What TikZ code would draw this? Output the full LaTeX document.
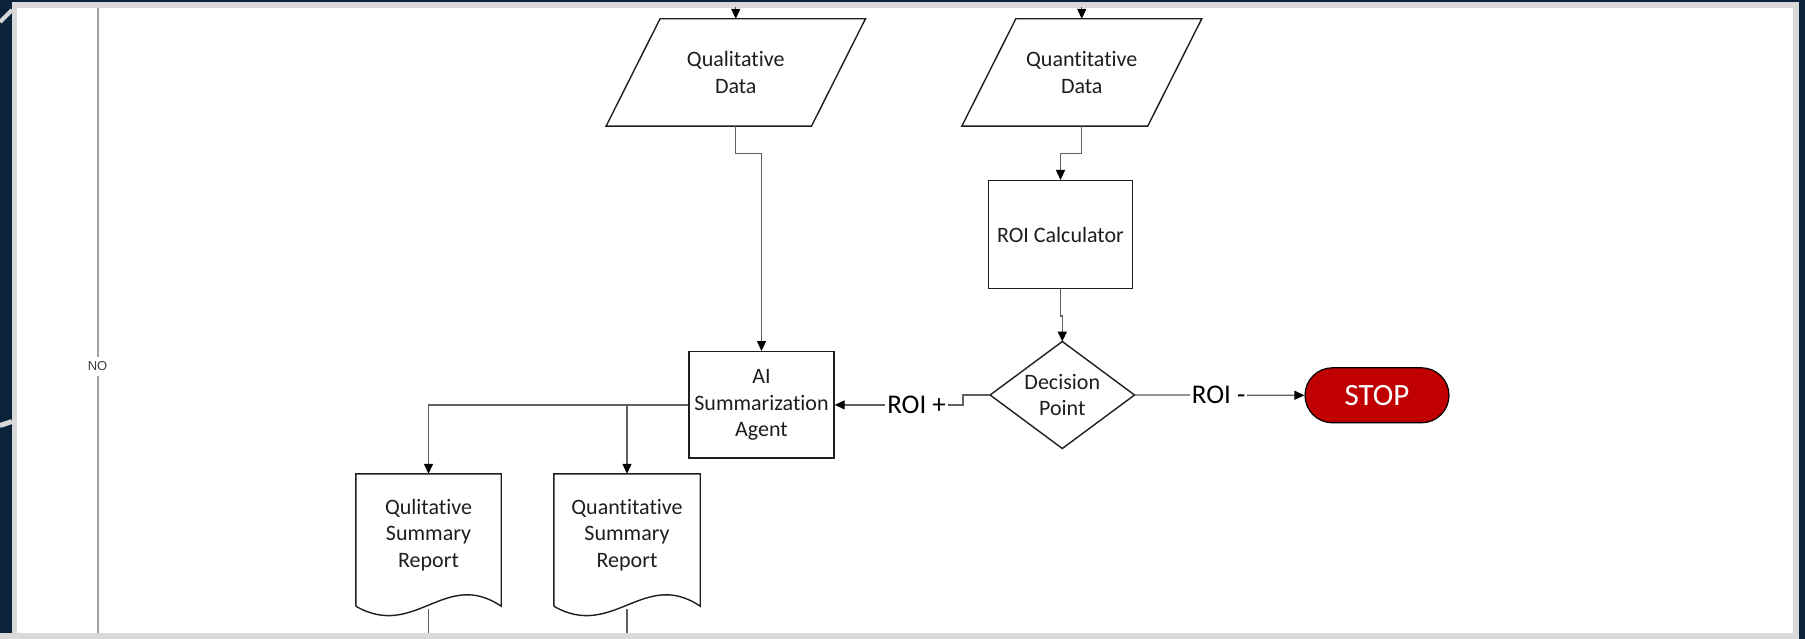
\documentclass[tikz,border=0pt]{standalone}
\usepackage{fontspec}
\setmainfont{Carlito}[Ligatures={NoCommon,NoRequired,NoContextual}]
\newfontfamily\lanefont{Liberation Sans}
\usetikzlibrary{arrows.meta,calc}

\definecolor{navy}{RGB}{10,35,58}
\definecolor{framegray}{RGB}{217,217,217}
\definecolor{lanegray}{RGB}{160,160,160}
\definecolor{linegray}{RGB}{95,95,95}
\definecolor{ink}{RGB}{30,30,30}
\definecolor{stopred}{RGB}{192,0,0}

\begin{document}
\begin{tikzpicture}[x=1pt,y=-1pt,
  shapeline/.style={draw=ink, line width=1.4pt},
  boxtext/.style={font=\fontsize{22}{26.3}\selectfont, text=ink, align=center, inner sep=0pt},
  procbox/.style={shapeline, boxtext},
  holder/.style={boxtext},
  conn/.style={draw=linegray, line width=1.3pt},
  flow/.style={conn, -{Triangle[length=10pt,width=9pt,color=black]}},
  edgelabel/.style={fill=white, inner xsep=2pt, inner ysep=0pt, text=black,
    font=\fontsize{27}{27}\selectfont},
  stopnode/.style={draw=black, line width=1.2pt, fill=stopred, text=white,
    rounded corners=27.5pt, minimum width=144pt, minimum height=55pt,
    font=\fontsize{31}{31}\selectfont},
  lane/.style={draw=lanegray, line width=2pt},
  lanelabel/.style={fill=white, inner xsep=1pt, inner ysep=5pt, text=ink!85,
    font=\lanefont\fontsize{13}{13}\selectfont},
]
\useasboundingbox (0,0) rectangle (1805,639);

% page backdrop and frame
\fill[navy] (0,0) rectangle (1805,639);
\draw[framegray, line width=4pt] (0,22) -- (12,10);
\draw[framegray, line width=5pt] (0,425.5) -- (12,421.5);
\fill[framegray] (12,2) rectangle (1799,639);
\fill[framegray] (0,633) rectangle (12,639);
\fill[white] (17,8) rectangle (1793,633);

\coordinate (bot) at (0,633);

% swimlane divider
\coordinate (laneTop) at (97.5,8);
\coordinate (laneBot) at (97.5,633);
\draw[lane] (laneTop) -- node[lanelabel, pos=0.5736] (no) {NO} (laneBot);

% data inputs (parallelograms)
\node[holder, minimum width=205pt, minimum height=107pt] (qd) at (735.75,72.5) {Qualitative\\Data};
\draw[shapeline] ($(qd.north west)+(27,0)$) -- ($(qd.north east)+(27,0)$)
  -- ($(qd.south east)+(-27,0)$) -- ($(qd.south west)+(-27,0)$) -- cycle;
\node[holder, minimum width=185.5pt, minimum height=107pt] (nd) at (1081.75,72.5) {Quantitative\\Data};
\draw[shapeline] ($(nd.north west)+(27,0)$) -- ($(nd.north east)+(27,0)$)
  -- ($(nd.south east)+(-27,0)$) -- ($(nd.south west)+(-27,0)$) -- cycle;

% process steps
\node[procbox, minimum width=144pt, minimum height=107.6pt] (rc) at (1060.5,234.5) {ROI Calculator};
\node[procbox, minimum width=145pt, minimum height=106.3pt] (ai) at (761.5,404.9) {AI\\Summarization\\Agent};

% decision
\node[holder, minimum width=144pt, minimum height=106.6pt] (dp) at (1062.3,395) {Decision\\Point};
\draw[shapeline] (dp.north) -- (dp.east) -- (dp.south) -- (dp.west) -- cycle;

% terminator
\node[stopnode] (stop) at (1377,395.3) {STOP};

% summary reports (document shapes)
\node[holder, minimum width=145pt, minimum height=122pt] (qr) at (428.5,535) {Qulitative\\Summary\\Report};
\draw[shapeline] ($(qr.south west)+(0,10)$) -- (qr.north west) -- (qr.north east)
  -- ($(qr.south east)+(0,10)$) .. controls +(-56,-38) and +(59,34) .. ($(qr.south west)+(0,10)$);
\node[holder, minimum width=146pt, minimum height=122pt] (nr) at (627,535) {Quantitative\\Summary\\Report};
\draw[shapeline] ($(nr.south west)+(0,10)$) -- (nr.north west) -- (nr.north east)
  -- ($(nr.south east)+(0,10)$) .. controls +(-56,-38) and +(59,34) .. ($(nr.south west)+(0,10)$);

% incoming arrows from above
\coordinate (qin) at (735.75,7);
\coordinate (nin) at (1081.75,7);
\draw[flow] (qin) -- (qd.north);
\draw[flow] (nin) -- (nd.north);

% connectors
\draw[flow] (qd.south) -- ++(0,27) -| (ai.north);
\draw[flow] (nd.south) -- ++(0,27) -| (rc.north);
\draw[flow] (rc.south) -- ++(0,27) -| (dp.north);
\draw[flow] (dp.west) -- ++(-27,0) coordinate (dk) |- (ai.east);
\node[edgelabel] (roiplus) at ($(dk |- ai.east)+(-46.5,0)$) {ROI +};
\draw[flow] (dp.east) -- node[edgelabel, pos=0.495] (roiminus) {ROI -} (stop.west);
\draw[flow] (ai.west) -| (qr.north);
\draw[flow] (ai.west) -| (nr.north);

% outgoing lines below the reports
\coordinate (qrb) at ($(qr.south)+(0,13)$);
\coordinate (nrb) at ($(nr.south)+(0,13)$);
\draw[conn] (qrb) -- (qrb |- bot);
\draw[conn] (nrb) -- (nrb |- bot);
\end{tikzpicture}
\end{document}
